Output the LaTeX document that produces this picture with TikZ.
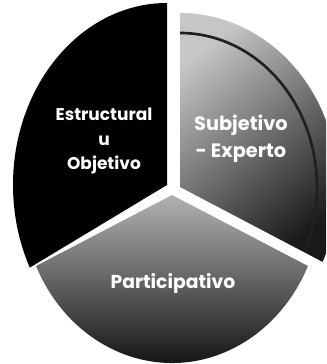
\documentclass[tikz,border=0pt]{standalone}
\usepackage{fontspec}
\setmainfont{Poppins}
\tikzset{lbl/.style={text=white,font=\bfseries\fontsize{14.5}{21}\selectfont,align=center,inner sep=0pt}}

\begin{document}
\begin{tikzpicture}[x=0.03cm,y=0.03cm]
	\useasboundingbox (0,0) rectangle (326,364);
	\clip (0,0) rectangle (326,364);
	\fill[black] (167,179) -- ++(0,182) arc[start angle=90,end angle=207,x radius=154,y radius=182] -- cycle;
	\shade[top color=gray!45,bottom color=gray!20!black,shading angle=40] (180,177) -- ++(0,174) arc[start angle=90,end angle=-25.5,x radius=158,y radius=174] -- cycle;
	\draw[line width=0.08cm,gray!25!black] (180,331) arc[start angle=90,end angle=-24,x radius=137,y radius=154];
	\shade[top color=gray!60,bottom color=black] (172,169) -- ++({150*cos(205)},{168*sin(205)}) arc[start angle=205,end angle=335,x radius=150,y radius=168] -- cycle;
	\node[lbl] (estr) at (104,223) {Estructural\\u\\Objetivo};
	\node[lbl,font=\bfseries\fontsize{16.5}{23}\selectfont] (subj) at (241,225) {Subjetivo\\- Experto};
	\node[lbl,font=\bfseries\fontsize{16}{21}\selectfont] (part) at (173,81) {Participativo};
\end{tikzpicture}
\end{document}
